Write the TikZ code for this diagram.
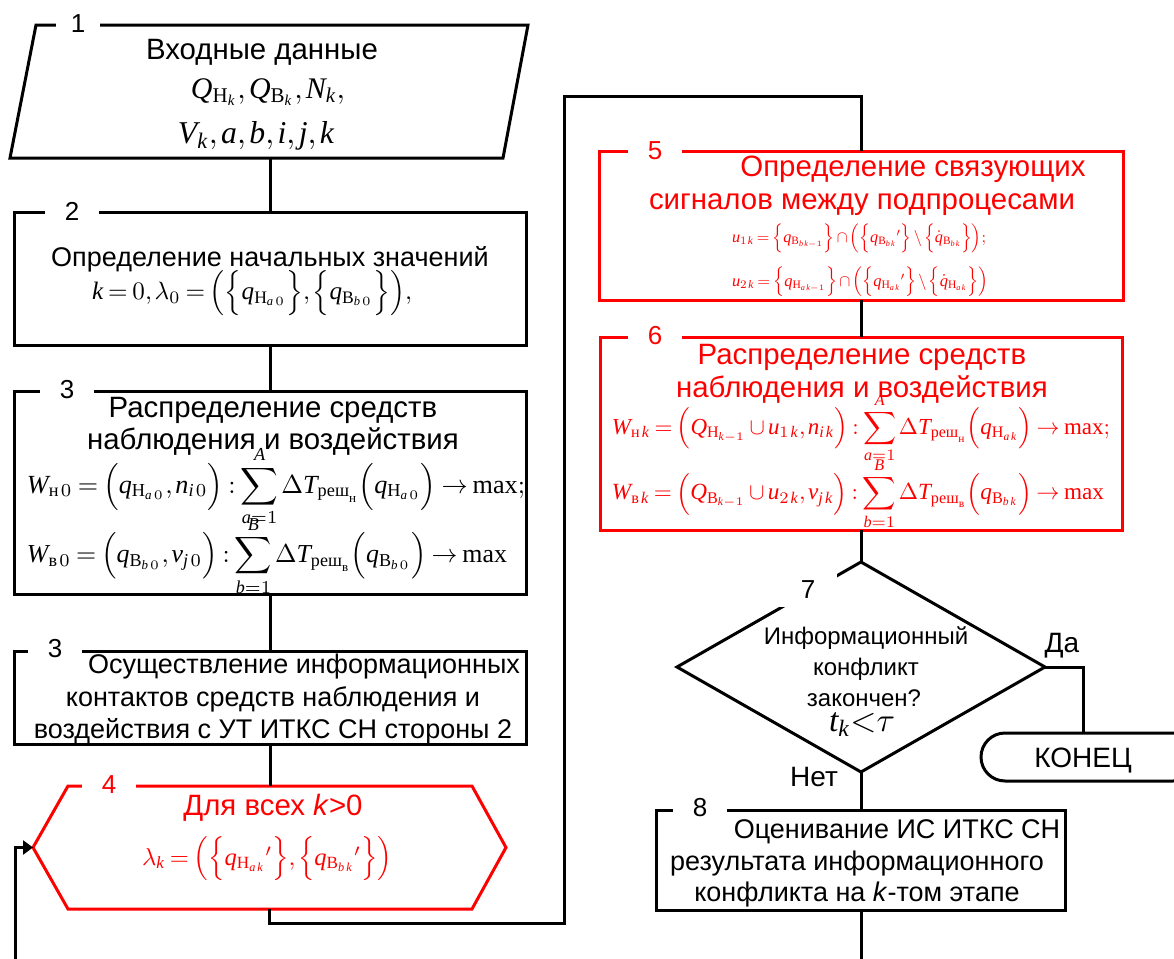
\documentclass[tikz,border=0pt]{standalone}
\usepackage{amsmath}
\usepackage{graphicx}
\usepackage{fontspec}
\setmainfont{Liberation Serif}
\setsansfont{Liberation Sans}
\newfontfamily\serifx[NFSSFamily=libserif]{Liberation Serif}
\usetikzlibrary{shapes.geometric,shapes.misc,arrows.meta}
\DeclareSymbolFont{timesit}{TU}{libserif}{m}{it}
\DeclareSymbolFont{timesrm}{TU}{libserif}{m}{n}
\makeatletter
\count@=97
\loop
  \Umathcode\count@="7 \symtimesit\count@
  \advance\count@ 1
\ifnum\count@<123 \repeat
\count@=65
\loop
  \Umathcode\count@="7 \symtimesit\count@
  \advance\count@ 1
\ifnum\count@<91 \repeat
\count@=48
\loop
  \Umathcode\count@="7 \symtimesrm\count@
  \advance\count@ 1
\ifnum\count@<58 \repeat
\makeatother
\Umathchardef\Delta="0 \symtimesrm "394
\newcommand\cy[1]{\text{\normalfont\rmfamily #1}}
\newcommand\HH{\cy{Н}}
\newcommand\BB{\cy{В}}
\newcommand\fw[2]{\resizebox{#1}{!}{\thinmuskip=2mu\medmuskip=2.5mu\thickmuskip=3.5mu #2}}
\begin{document}
\begin{tikzpicture}[x=0.5pt,y=-0.5pt,
  ln/.style={line width=1.5pt, draw=black},
  rd/.style={line width=1.5pt, draw=red},
  box/.style={rectangle, inner sep=0pt, outer sep=0pt},
  txt/.style={font=\sffamily\fontsize{13.5}{16}\selectfont, inner sep=0pt, anchor=base},
  btxt/.style={font=\sffamily\fontsize{14.7}{17}\selectfont, inner sep=0pt, anchor=base},
  dtxt/.style={font=\sffamily\fontsize{12}{14}\selectfont, inner sep=0pt, anchor=base},
  mth/.style={inner sep=0pt},
  lbl/.style={font=\sffamily\fontsize{13}{15}\selectfont, fill=white, inner sep=0pt, minimum width=27pt, minimum height=11pt}
]
\useasboundingbox (0,0) rectangle (1174,959);

% ---------- block 1 (parallelogram)
\node[box, minimum width=260pt, minimum height=66.5pt] (b1) at (270,91.5) {};
\draw[ln] (36,25) -- (528,25) -- (503,158) -- (10,158) -- cycle;
\node[lbl, minimum width=22pt] (l1) at (78,24) {1};
\node[btxt] (t1a) at (262,59) {Входные данные};
\node[mth] (m1a) at (268,92) {\fw{77pt}{$Q_{\HH_k}, Q_{\BB_k}, N_k,$}};
\node[mth] (m1b) at (256,136) {\fw{78pt}{$V_k, a, b, i, j, k$}};

% ---------- block 2
\node[box, ln, minimum width=256pt, minimum height=66.5pt] (b2) at (270,278.5) {};
\node[lbl] (l2) at (72,211) {2};
\node[txt] (t2a) at (270,266) {Определение начальных значений};
\node[mth] (m2) at (252,293) {\fw{160pt}{$k = 0, \lambda_0 = \Bigl(\Bigl\{q_{\HH_{a\,0}}\Bigr\}, \Bigl\{q_{\BB_{b\,0}}\Bigr\}\Bigr),$}};

% ---------- block 3
\node[box, ln, minimum width=256pt, minimum height=101.5pt] (b3) at (270,492.5) {};
\node[lbl] (l3) at (67,390) {3};
\node[btxt] (t3a) at (273,417) {Распределение средств};
\node[btxt] (t3b) at (273,449) {наблюдения и воздействия};
\node[mth] (m3a) at (276,486) {\fw{249pt}{$\displaystyle W_{\cy{н}\,0} = \Bigl(q_{\HH_{a\,0}}, n_{i\,0}\Bigr) \mathrel{:} \sum_{a=1}^{A} \Delta T_{\cy{реш}_{\cy{н}}} \Bigl(q_{\HH_{a\,0}}\Bigr) \to \max;$}};
\node[mth] (m3b) at (267,556) {\fw{240pt}{$\displaystyle W_{\cy{в}\,0} = \Bigl(q_{\BB_{b\,0}}, v_{j\,0}\Bigr) \mathrel{:} \sum_{b=1}^{B} \Delta T_{\cy{реш}_{\cy{в}}} \Bigl(q_{\BB_{b\,0}}\Bigr) \to \max$}};

% ---------- block 3 (second)
\node[box, ln, minimum width=256pt, minimum height=46.5pt] (b3b) at (270,697.5) {};
\node[lbl] (l3b) at (55,649) {3};
\node[txt] (t3c) at (304,673) {Осуществление информационных};
\node[txt] (t3d) at (273,706) {контактов средств наблюдения и};
\node[txt] (t3e) at (273,738) {воздействия с УТ ИТКС СН стороны 2};

% ---------- block 4 (hexagon)
\node[box, minimum width=236.5pt, minimum height=61.5pt] (b4) at (269.5,847.5) {};
\draw[rd] (68,786) -- (472,786) -- (506,847.5) -- (472,909) -- (68,909) -- (33,847.5) -- cycle;
\node[lbl, text=red] (l4) at (109,785) {4};
\node[btxt, text=red] (t4a) at (273,815) {Для всех \textit{k}>0};
\node[mth, text=red] (m4) at (267,859) {\fw{125pt}{$\lambda_k = \Bigl(\Bigl\{q_{\HH_{a\,k}}{}'\Bigr\}, \Bigl\{q_{\BB_{b\,k}}{}'\Bigr\}\Bigr)$}};

% ---------- block 5
\node[box, rd, minimum width=262pt, minimum height=74.5pt] (b5) at (861,225.5) {};
\node[lbl, text=red] (l5) at (655,151) {5};
\node[btxt, text=red] (t5a) at (913,176) {Определение связующих};
\node[btxt, text=red] (t5b) at (862,209) {сигналов между подпроцесами};
\node[mth, text=red] (m5a) at (859,238) {\fw{127pt}{$u_{1\,k} = \Bigl\{q_{\BB_{b\,k-1}}\Bigr\} \cap \Bigl(\Bigl\{q_{\BB_{b\,k}}{}'\Bigr\} \setminus \Bigl\{\dot q_{\BB_{b\,k}}\Bigr\}\Bigr);$}};
\node[mth, text=red] (m5b) at (860,282) {\fw{128pt}{$u_{2\,k} = \Bigl\{q_{\HH_{a\,k-1}}\Bigr\} \cap \Bigl(\Bigl\{q_{\HH_{a\,k}}{}'\Bigr\} \setminus \Bigl\{\dot q_{\HH_{a\,k}}\Bigr\}\Bigr)$}};

% ---------- block 6
\node[box, rd, minimum width=261pt, minimum height=96.5pt] (b6) at (861,433.5) {};
\node[lbl, text=red] (l6) at (655,336) {6};
\node[btxt, text=red] (t6a) at (862,364) {Распределение средств};
\node[btxt, text=red] (t6b) at (862,397) {наблюдения и воздействия};
\node[mth, text=red] (m6a) at (861,428) {\fw{249pt}{$\displaystyle W_{\cy{н}\,k} = \Bigl(Q_{\HH_{k-1}} \cup u_{1\,k}, n_{i\,k}\Bigr) \mathrel{:} \sum_{a=1}^{A} \Delta T_{\cy{реш}_{\cy{н}}} \Bigl(q_{\HH_{a\,k}}\Bigr) \to \max;$}};
\node[mth, text=red] (m6b) at (858,494) {\fw{246pt}{$\displaystyle W_{\cy{в}\,k} = \Bigl(Q_{\BB_{k-1}} \cup u_{2\,k}, v_{j\,k}\Bigr) \mathrel{:} \sum_{b=1}^{B} \Delta T_{\cy{реш}_{\cy{в}}} \Bigl(q_{\BB_{b\,k}}\Bigr) \to \max$}};

% ---------- decision 7
\node[diamond, ln, inner sep=0pt, outer sep=0pt, minimum width=184pt, minimum height=105pt] (d7) at (861,667) {};
\node[lbl, minimum width=29pt, minimum height=17pt] (l7) at (808,590) {7};
\node[dtxt] (t7a) at (866,644) {Информационный};
\node[dtxt] (t7b) at (866,675) {конфликт};
\node[dtxt] (t7c) at (864,706) {закончен?};
\node[mth] (m7) at (862,725) {\fw{33pt}{$t_k{<}\tau$}};
\node[txt, font=\sffamily\fontsize{14}{16}\selectfont] (da) at (1062,652) {Да};
\node[txt, font=\sffamily\fontsize{14}{16}\selectfont] (net) at (814,786) {Нет};

% ---------- terminator
\node[rounded rectangle, ln, inner sep=0pt, outer sep=0pt, minimum width=108pt, minimum height=24pt] (end) at (1089,757) {};
\node[txt, font=\sffamily\fontsize{14}{16}\selectfont] (endt) at (1083,767) {КОНЕЦ};

% ---------- block 8
\node[box, ln, minimum width=204.5pt, minimum height=50pt] (b8) at (861,860) {};
\node[lbl] (l8) at (700,808) {8};
\node[txt] (t8a) at (897,838) {Оценивание ИС ИТКС СН};
\node[txt] (t8b) at (857,870) {результата информационного};
\node[txt] (t8c) at (857,901) {конфликта на \textit{k}-том этапе};

% ---------- connectors
\coordinate (c1) at (564,923);
\coordinate (c2) at (564,96);
\coordinate (bot) at (861,959);
\coordinate (fb) at (15,959);
\coordinate (endtop) at (1083,733);
\draw[ln] (b1.south) -- (b2.north);
\draw[ln] (b2.south) -- (b3.north);
\draw[ln] (b3.south) -- (b3b.north);
\draw[ln] (b3b.south) -- (b3b.south |- b4.north);
\draw[ln] (b4.south) |- (c1) -- (c2) -| (b5.north);
\draw[ln] (b5.south) -- (b6.north);
\draw[ln] (b6.south) -- (d7.north);
\draw[ln] (d7.east) -| (endtop);
\draw[ln] (d7.south) -- (b8.north);
\draw[ln] (b8.south) -- (bot);
\draw[ln, -{Triangle[length=5pt,width=7pt]}] (fb) |- (b4.west);
\end{tikzpicture}
\end{document}
